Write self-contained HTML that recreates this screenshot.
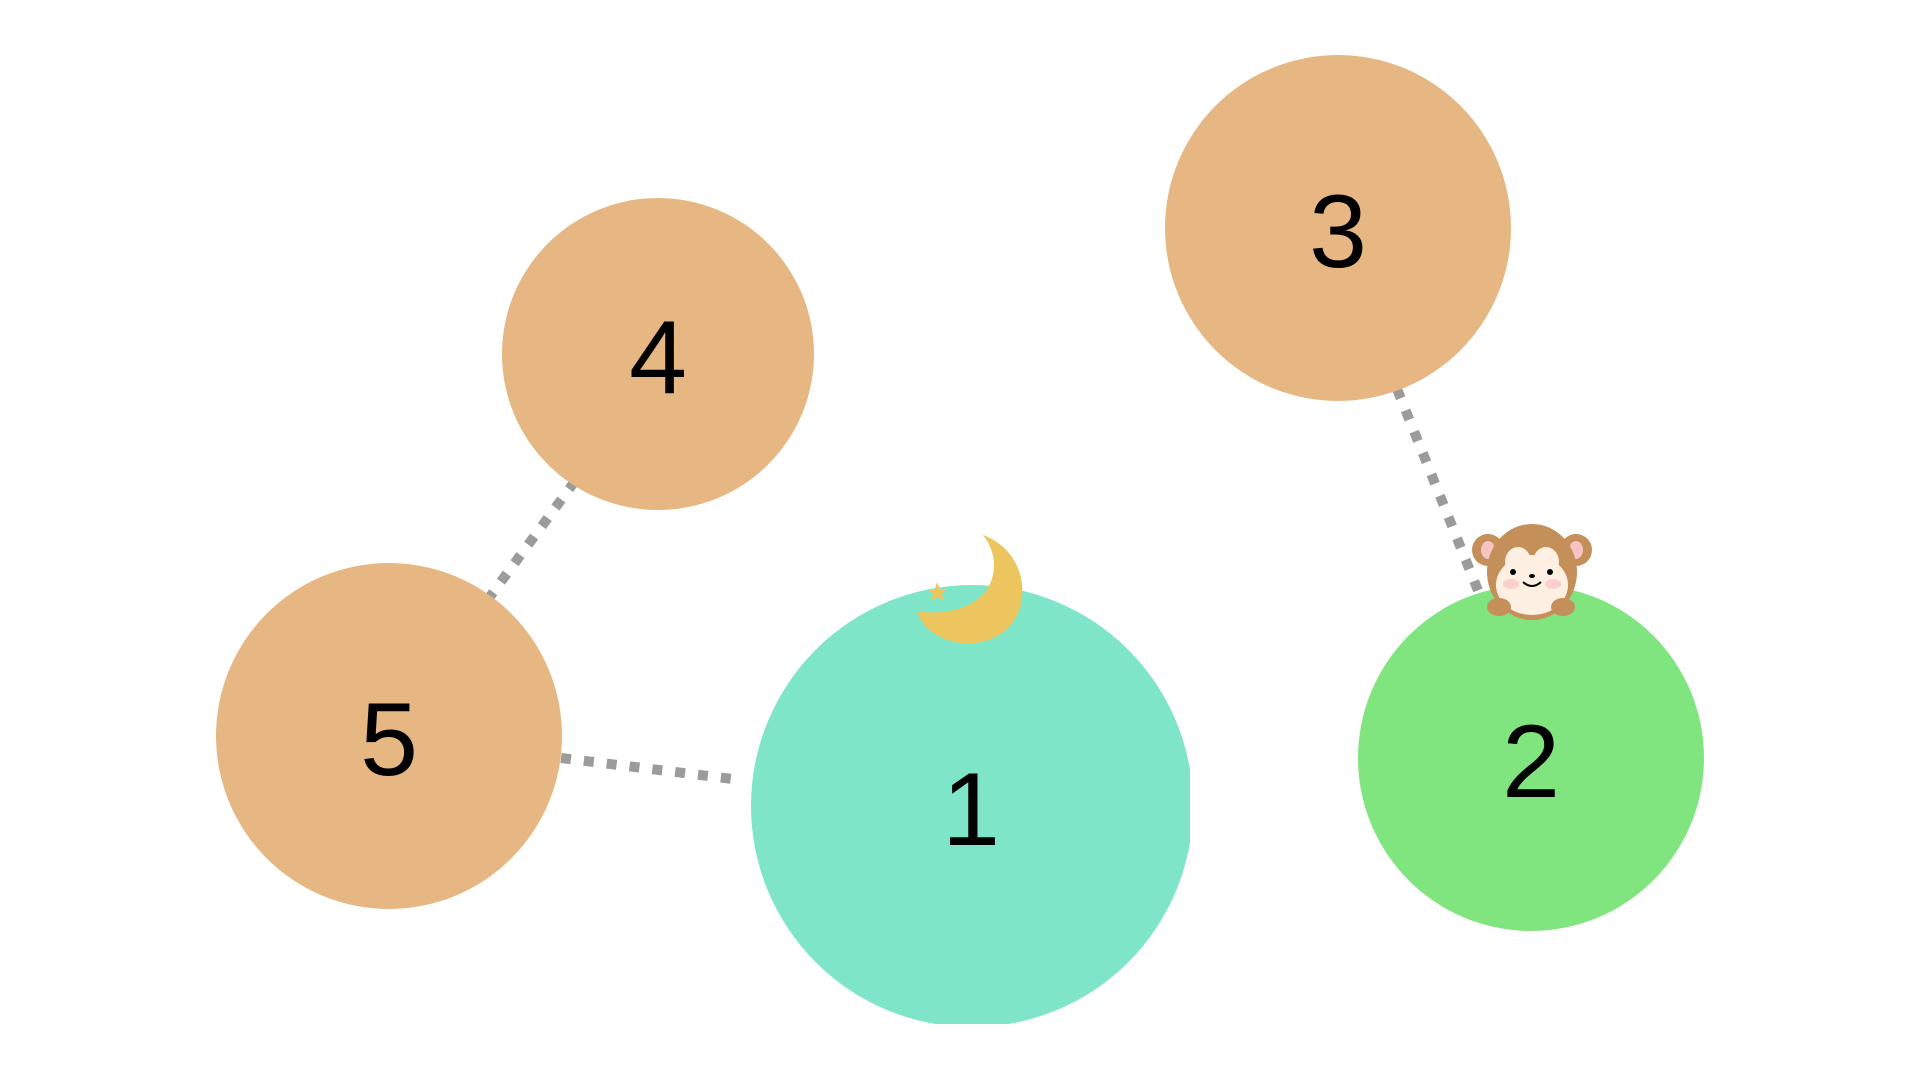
<!DOCTYPE html>
<html><head><style>html,body{margin:0;background:#fff;width:1920px;height:1080px;overflow:hidden}</style></head>
<body>
<svg width="1920" height="1080" viewBox="0 0 1920 1080" xmlns="http://www.w3.org/2000/svg">
<defs><clipPath id="c1"><rect x="0" y="0" width="1190" height="1024"/></clipPath></defs>
<g stroke="#9b9b9b" stroke-width="10" stroke-dasharray="10 13" fill="none">
<line x1="575" y1="481" x2="486" y2="602"/>
<line x1="561" y1="758" x2="741" y2="780"/>
<line x1="1397" y1="389" x2="1479" y2="593"/>
</g>
<circle cx="972" cy="806" r="221" fill="#7fe5c8" clip-path="url(#c1)"/>
<circle cx="1531" cy="758" r="173" fill="#80e57f"/>
<circle cx="1338" cy="228" r="173" fill="#e6b782"/>
<circle cx="658" cy="354" r="156" fill="#e6b782"/>
<circle cx="389" cy="736" r="173" fill="#e6b782"/>
<g font-family="Liberation Sans, sans-serif" font-size="104" text-anchor="middle" fill="#000">
<text x="971" y="845">1</text>
<text x="1531" y="797">2</text>
<text x="1338" y="267">3</text>
<text x="658" y="393">4</text>
<text x="389" y="775">5</text>
</g>
<path d="M983,535 C1010,545 1025,570 1022,598 C1018,630 990,646 962,643 C940,641 922,628 917,611 C945,616 975,608 988,588 C998,570 995,550 983,535 Z" fill="#ecc55e"/>
<polygon points="937,582 940,589 947,589 942,594 944,601 937,597 931,601 933,594 928,589 935,589" fill="#ecc55e"/>
<g>
<circle cx="1488" cy="550" r="16" fill="#c48f58"/>
<circle cx="1576" cy="550" r="16" fill="#c48f58"/>
<ellipse cx="1488" cy="550" rx="7" ry="9" fill="#f7c3c3"/>
<ellipse cx="1576" cy="550" rx="7" ry="9" fill="#f7c3c3"/>
<ellipse cx="1532" cy="572" rx="45" ry="48" fill="#c48f58"/>
<ellipse cx="1532" cy="585" rx="36" ry="30" fill="#fdf0e2"/>
<ellipse cx="1518" cy="562" rx="13" ry="15" fill="#fdf0e2"/>
<ellipse cx="1546" cy="562" rx="13" ry="15" fill="#fdf0e2"/>
<circle cx="1513" cy="572" r="3" fill="#000"/>
<circle cx="1550" cy="572" r="3" fill="#000"/>
<ellipse cx="1532" cy="576" rx="3" ry="2" fill="#000"/>
<path d="M1523,582 Q1532,590 1541,582" stroke="#000" stroke-width="2" fill="none"/>
<ellipse cx="1511" cy="584" rx="8" ry="5" fill="#f9d0cc"/>
<ellipse cx="1553" cy="584" rx="8" ry="5" fill="#f9d0cc"/>
<ellipse cx="1499" cy="607" rx="12" ry="9" fill="#c48f58"/>
<ellipse cx="1563" cy="607" rx="12" ry="9" fill="#c48f58"/>
</g>
</svg>
</body></html>
